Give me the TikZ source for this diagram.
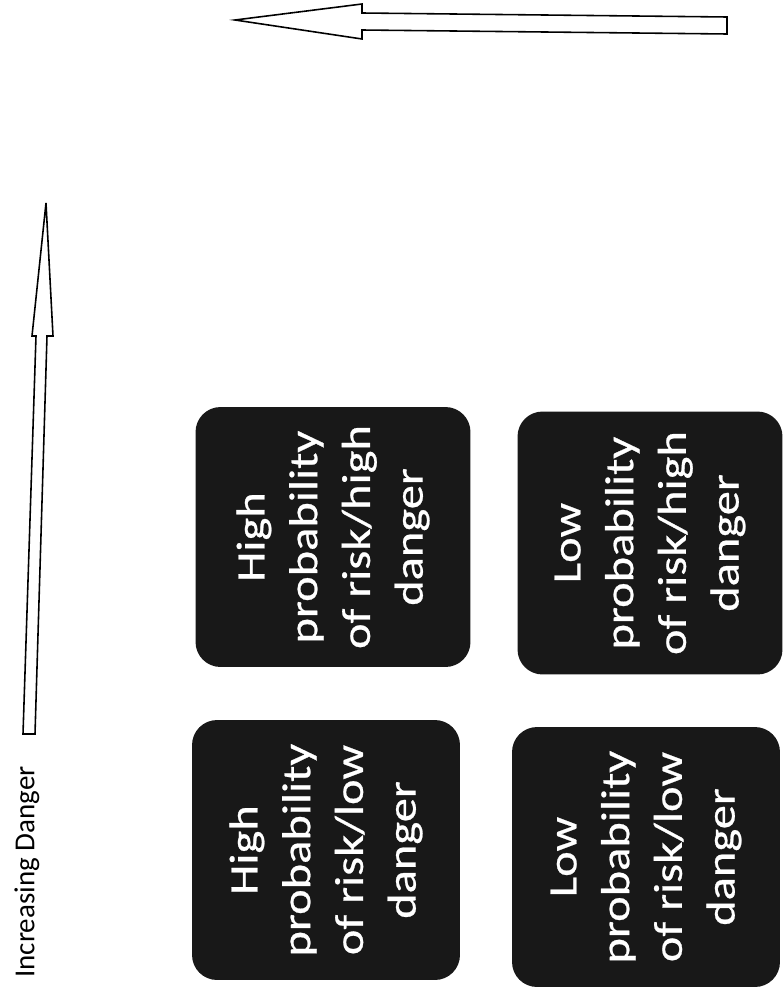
\documentclass[tikz,border=0pt]{standalone}
\usepackage{fontspec}
\setmainfont{Carlito}
\newfontfamily\boxfont[FakeStretch=1.2, FakeBold=0.6]{Carlito}
\usepackage{xcolor}
\usepackage{tikz}
\usetikzlibrary{positioning}

\definecolor{scanblack}{RGB}{24,24,24}

\begin{document}
\begin{tikzpicture}[x=0.02cm, y=-0.02cm,
  riskbox/.style={rectangle, fill=scanblack, rounded corners=0.5cm, rotate=90,
                  minimum width=5.2cm, minimum height=5.4cm, align=center,
                  text=white, font=\boxfont\fontsize{23}{30}\selectfont},
  hollow/.style={draw=black, line width=0.9pt, line join=miter, fill=white}
]
  \useasboundingbox (0,0) rectangle (783,990);

  % arrows (hollow block shapes)
  \draw[hollow] (235,20) -- (362,4) -- (362,13) -- (727,17) -- (727,34)
    -- (362,30) -- (362,39) -- cycle;
  \draw[hollow] (46,203) -- (53,336) -- (47,336) -- (35,734) -- (23,734)
    -- (36,336) -- (32,336) -- cycle;

  \node[rotate=90, font=\fontsize{16.5}{19}\selectfont] (danger) at (27,872) {Increasing Danger};

  % the four quadrants
  \node[riskbox, minimum height=5.5cm] (hihi) at (333,537) {High\\probability\\of risk/high\\danger};
  \node[riskbox, minimum width=5.26cm, minimum height=5.3cm] (lohi) at (650,543) {Low\\probability\\of risk/high\\danger};
  \node[riskbox, minimum height=5.36cm] (hilo) at (326,850) {High\\probability\\of risk/low\\danger};
  \node[riskbox, minimum height=5.36cm] (lolo) at (646,857) {Low\\probability\\of risk/low\\danger};
\end{tikzpicture}
\end{document}
